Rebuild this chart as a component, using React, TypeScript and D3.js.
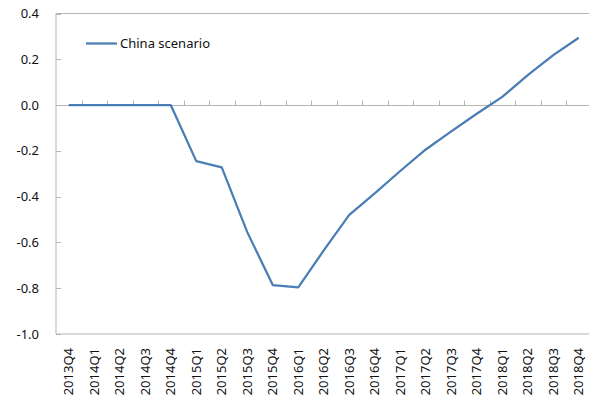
import React, { useEffect, useRef } from "react";
import * as d3 from "d3";

const quarters = [
  "2013Q4", "2014Q1", "2014Q2", "2014Q3", "2014Q4",
  "2015Q1", "2015Q2", "2015Q3", "2015Q4",
  "2016Q1", "2016Q2", "2016Q3", "2016Q4",
  "2017Q1", "2017Q2", "2017Q3", "2017Q4",
  "2018Q1", "2018Q2", "2018Q3", "2018Q4",
];

const chinaScenario = [
  0, 0, 0, 0, 0,
  -0.245, -0.272, -0.555, -0.786,
  -0.796, -0.635, -0.48, -0.386,
  -0.288, -0.194, -0.115, -0.038,
  0.036, 0.131, 0.218, 0.294,
];

const yTicks = [0.4, 0.2, 0.0, -0.2, -0.4, -0.6, -0.8, -1.0];
const seriesName = "China scenario";

export default function App() {
  const ref = useRef<HTMLDivElement>(null);

  useEffect(() => {
    const width = 589,
      height = 405,
      margin = { top: 13.5, right: -2.5, bottom: 71, left: 56 };
    const font = "'Noto Sans', 'Open Sans', sans-serif";
    const axisColor = "#b5b5b5";
    const textColor = "#111";

    d3.select(ref.current).selectAll("*").remove();
    const svg = d3
      .select(ref.current)
      .append("svg")
      .attr("width", width)
      .attr("height", height)
      .style("display", "block");

    const x = d3
      .scaleBand()
      .domain(quarters)
      .range([margin.left, width - margin.right])
      .padding(0);

    const y = d3
      .scaleLinear()
      .domain([-1.0, 0.4])
      .range([height - margin.bottom, margin.top]);

    const bottom = y(-1.0);
    const top = y(0.4);

    // Plot area frame (left, top, bottom)
    const frame = svg.append("g").attr("stroke", axisColor).attr("stroke-width", 1).attr("fill", "none");
    frame.append("line").attr("x1", margin.left).attr("x2", margin.left).attr("y1", top).attr("y2", bottom);
    frame.append("line").attr("x1", margin.left).attr("x2", width).attr("y1", top).attr("y2", top);
    frame.append("line").attr("x1", margin.left).attr("x2", width).attr("y1", bottom).attr("y2", bottom);

    // Y ticks (inside) and labels
    svg
      .append("g")
      .selectAll("line")
      .data(yTicks)
      .enter()
      .append("line")
      .attr("x1", margin.left)
      .attr("x2", margin.left + 5)
      .attr("y1", (d) => Math.round(y(d)) + 0.5)
      .attr("y2", (d) => Math.round(y(d)) + 0.5)
      .attr("stroke", axisColor);

    svg
      .append("g")
      .selectAll("text")
      .data(yTicks)
      .enter()
      .append("text")
      .attr("x", 39)
      .attr("y", (d) => y(d))
      .attr("dy", "0.35em")
      .attr("text-anchor", "end")
      .style("font-family", font)
      .style("font-size", "13px")
      .attr("fill", textColor)
      .text((d) => d.toFixed(1));

    // Horizontal axis at zero with upward ticks between categories
    const y0 = Math.round(y(0)) + 0.5;
    svg
      .append("line")
      .attr("x1", margin.left)
      .attr("x2", width)
      .attr("y1", y0)
      .attr("y2", y0)
      .attr("stroke", axisColor);

    const boundaries = quarters.map((q) => x(q)!).concat([x(quarters[quarters.length - 1])! + x.bandwidth()]);
    svg
      .append("g")
      .selectAll("line")
      .data(boundaries.slice(1))
      .enter()
      .append("line")
      .attr("x1", (d) => Math.round(d) + 0.5)
      .attr("x2", (d) => Math.round(d) + 0.5)
      .attr("y1", y0)
      .attr("y2", y0 - 5)
      .attr("stroke", axisColor);

    // X labels (rotated)
    svg
      .append("g")
      .selectAll("text")
      .data(quarters)
      .enter()
      .append("text")
      .attr("transform", (d) => `translate(${x(d)! + x.bandwidth() / 2},348) rotate(-90)`)
      .attr("dy", "0.35em")
      .attr("text-anchor", "end")
      .style("font-family", font)
      .style("font-size", "13px")
      .attr("fill", textColor)
      .text((d) => d);

    // Line
    const line = d3
      .line<number>()
      .x((_, i) => x(quarters[i])! + x.bandwidth() / 2)
      .y((d) => y(d));

    svg
      .append("path")
      .datum(chinaScenario)
      .attr("d", line)
      .attr("fill", "none")
      .attr("stroke", "#4a7db4")
      .attr("stroke-width", 2.25)
      .attr("stroke-linejoin", "round");

    // Legend
    const legend = svg.append("g");
    legend
      .append("line")
      .attr("x1", 86)
      .attr("x2", 117)
      .attr("y1", 43.5)
      .attr("y2", 43.5)
      .attr("stroke", "#4a7db4")
      .attr("stroke-width", 2.25);
    legend
      .append("text")
      .attr("x", 120)
      .attr("y", 43.5)
      .attr("dy", "0.35em")
      .style("font-family", font)
      .style("font-size", "13px")
      .attr("fill", textColor)
      .text(seriesName);
  }, []);

  return <div ref={ref} style={{ position: "absolute", left: 0, top: 0 }}></div>;
}
